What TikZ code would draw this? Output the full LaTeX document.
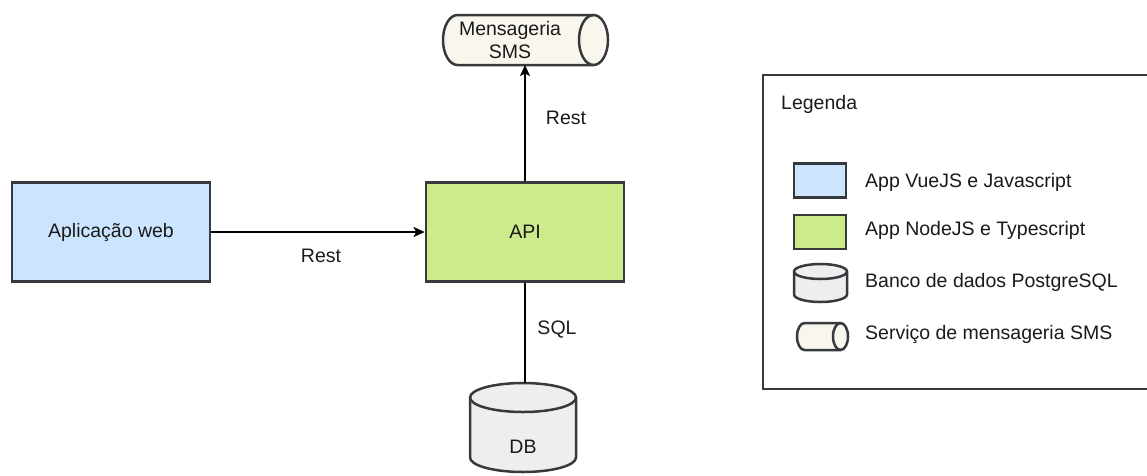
\documentclass[tikz,border=0pt]{standalone}
\usepackage{fontspec}
\setmainfont{Liberation Sans}
\usetikzlibrary{arrows.meta}

\definecolor{edge}{HTML}{36393D}
\definecolor{vuefill}{HTML}{CCE5FF}
\definecolor{nodefill}{HTML}{CDEB8B}
\definecolor{pgfill}{HTML}{EEEEEE}
\definecolor{smsfill}{HTML}{F9F7ED}
\definecolor{ink}{HTML}{1A1A1A}

% upright cylinder: fill, left x, top y, right x, bottom y, ellipse half-height
\newcommand\vcyl[6]{%
  \pgfmathsetmacro\cylrx{(#4-#2)/2}%
  \filldraw[cyl, fill=#1] (#2,#3+#6) -- (#2,#5-#6)
    arc[start angle=180, end angle=0, x radius=\cylrx, y radius=#6]
    -- (#4,#3+#6)
    arc[start angle=0, end angle=-180, x radius=\cylrx, y radius=#6] -- cycle;
  \draw[cyl] (#2,#3+#6) arc[start angle=180, end angle=0, x radius=\cylrx, y radius=#6];}

% lying cylinder: fill, left x, top y, right x, bottom y, ellipse half-width
\newcommand\hcyl[6]{%
  \pgfmathsetmacro\cylry{(#5-#3)/2}%
  \filldraw[cyl, fill=#1] (#2+#6,#3)
    arc[start angle=270, end angle=90, x radius=#6, y radius=\cylry]
    -- (#4-#6,#5)
    arc[start angle=90, end angle=-90, x radius=#6, y radius=\cylry] -- cycle;
  \draw[cyl] (#4-#6,#3) arc[start angle=270, end angle=90, x radius=#6, y radius=\cylry];}

\begin{document}
\begin{tikzpicture}[x=1pt, y=-1pt,
  font=\fontsize{19.5}{23}\selectfont, text=ink,
  appbox/.style={draw=edge, line width=2.7pt, minimum width=198pt,
    minimum height=99pt, inner sep=0pt},
  keybox/.style={draw=edge, line width=2.7pt, minimum width=52pt,
    minimum height=34pt, inner sep=0pt},
  cyl/.style={draw=edge, line width=2.5pt},
  flow/.style={draw=black, line width=1.4pt,
    -{Stealth[length=11pt, width=10pt, inset=2.5pt]}},
  link/.style={draw=black, line width=1.4pt},
  lbl/.style={inner sep=0pt},
  keytext/.style={inner sep=0pt, anchor=west}]

\useasboundingbox (0,0) rectangle (1147,475);

% application boxes
\node[appbox, fill=vuefill] (web) at (111,232) {Aplicação web};
\node[appbox, fill=nodefill] (api) at (525,232) {API};

% SMS service
\hcyl{smsfill}{443}{15}{608}{65}{14.5}
\node[lbl, align=center] (sms) at (510,40) {Mensageria\\SMS};
\coordinate (smsb) at (525,65);

% database
\vcyl{pgfill}{470}{383}{576}{472}{14.5}
\node[lbl] (db) at (523,447) {DB};
\coordinate (dbtop) at (525,383);

% connectors
\draw[flow] (web) -- (api);
\draw[flow] (api.north) -- (smsb);
\draw[link] (api.south) -- (dbtop);

\node[lbl] (rest1) at (321,256) {Rest};
\node[lbl] (rest2) at (566,118) {Rest};
\node[lbl] (sql) at (557,330) {SQL};

% legend
\draw[draw=edge, line width=1.8pt] (1150,75) -- (763,75) -- (763,389) -- (1150,389);
\node[keytext] (legtitle) at (781,104) {Legenda};

\node[keybox, fill=vuefill] (kvue) at (820,180.5) {};
\node[keytext] (tvue) at (865,182) {App VueJS e Javascript};

\node[keybox, fill=nodefill] (knode) at (820,232) {};
\node[keytext] (tnode) at (865,230) {App NodeJS e Typescript};

\vcyl{pgfill}{794}{264}{847}{302}{7.5}
\node[keytext] (tpg) at (865,282) {Banco de dados PostgreSQL};

\hcyl{smsfill}{797}{323}{848}{350}{7.5}
\node[keytext] (tsms) at (865,334) {Serviço de mensageria SMS};

\end{tikzpicture}
\end{document}
